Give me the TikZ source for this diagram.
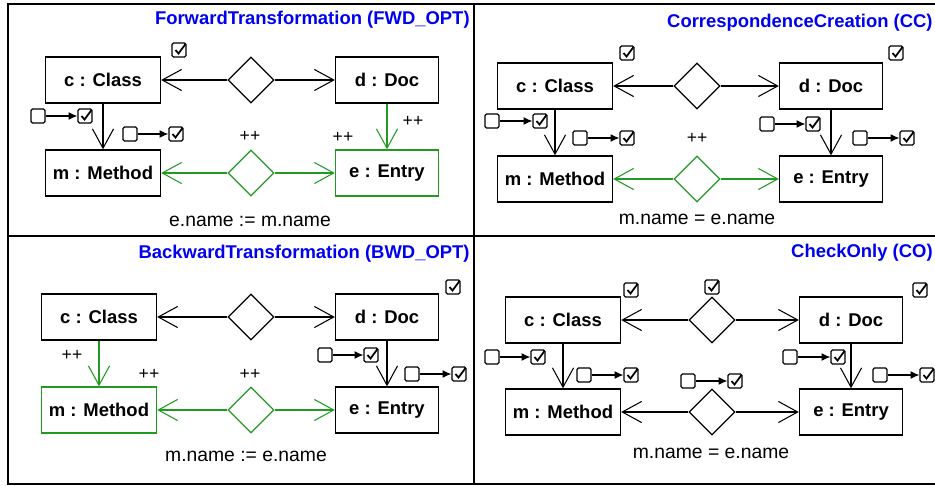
\documentclass[tikz,border=0pt]{standalone}
\usepackage{fontspec}
\setmainfont{Liberation Sans}
\usetikzlibrary{positioning,shapes.geometric,arrows.meta}
\definecolor{newgreen}{RGB}{34,153,34}
\definecolor{ruleblue}{RGB}{0,0,240}

\begin{document}
\begin{tikzpicture}[x=0.02cm,y=-0.02cm,
  obj/.style={draw,line width=0.8pt,inner sep=0,minimum height=0.92cm,font=\fontsize{10.5}{12}\selectfont\bfseries},
  lhs/.style={obj,minimum width=2.3cm},
  rhs/.style={obj,minimum width=2.06cm},
  corr/.style={draw,diamond,aspect=1,inner sep=0,minimum size=0.92cm,line width=0.7pt},
  link/.style={line width=0.6pt,-{Straight Barb[length=11pt,width=12pt]}},
  todo/.style={draw,rounded corners=0.8pt,line width=0.7pt,minimum size=0.28cm,inner sep=0},
  done/.style={todo},
  flip/.style={line width=0.6pt,-{Latex[length=5pt,width=4.5pt]}},
  checkmark/.style={line width=1pt},
  plus/.style={font=\fontsize{10}{12}\selectfont},
  cond/.style={font=\fontsize{11}{13}\selectfont},
  title/.style={anchor=east,inner sep=0,text=ruleblue,font=\fontsize{10.5}{12}\selectfont\bfseries}]
  \useasboundingbox (0,0) rectangle (935,486);
  \draw[line width=1pt] (935,4) -- (8,4) -- (8,484) -- (935,484);
  \draw[line width=1pt] (474,4) -- (474,484);
  \draw[line width=1pt] (8,236) -- (935,236);

  \node[title] (t1) at (470,20) {ForwardTransformation (FWD\_OPT)};
  \node[lhs] (c1) at (103,80) {c : Class};
  \node[rhs] (d1) at (387,80) {d : Doc};
  \node[lhs] (m1) at (103,173) {m : Method};
  \node[rhs,draw=newgreen] (e1) at (387,173) {e : Entry};
  \node[corr] (r1) at (251,80) {};
  \node[corr,draw=newgreen] (s1) at (251,173) {};
  \draw[link] (r1.west) -- (c1.east);
  \draw[link] (r1.east) -- (d1.west);
  \draw[link,newgreen] (s1.west) -- (m1.east);
  \draw[link,newgreen] (s1.east) -- (e1.west);
  \draw[link] (c1.south) -- (m1.north);
  \draw[link,newgreen] (d1.south) -- (e1.north);
  \node[done] (k1a) at (179,50) {};
  \node[todo] (n1a) at (38,116) {};
  \node[done] (y1a) at (85,116) {};
  \node[todo] (n1b) at (130,134) {};
  \node[done] (y1b) at (176,134) {};
  \draw[flip] (n1a) -- (y1a);
  \draw[flip] (n1b) -- (y1b);
  \node[plus] (p1a) at (250,136) {++};
  \node[plus] (p1b) at (343,137) {++};
  \node[plus] (p1c) at (413,121) {++};
  \node[cond] (f1) at (250,221) {e.name := m.name};

  \node[title] (t2) at (933,23) {CorrespondenceCreation (CC)};
  \node[lhs] (c2) at (555,86) {c : Class};
  \node[rhs] (d2) at (831,86) {d : Doc};
  \node[lhs] (m2) at (555,179) {m : Method};
  \node[rhs] (e2) at (831,179) {e : Entry};
  \node[corr] (r2) at (697,86) {};
  \node[corr,draw=newgreen] (s2) at (697,179) {};
  \draw[link] (r2.west) -- (c2.east);
  \draw[link] (r2.east) -- (d2.west);
  \draw[link,newgreen] (s2.west) -- (m2.east);
  \draw[link,newgreen] (s2.east) -- (e2.west);
  \draw[link] (c2.south) -- (m2.north);
  \draw[link] (d2.south) -- (e2.north);
  \node[done] (k2a) at (627,53) {};
  \node[done] (k2b) at (896,53) {};
  \node[todo] (n2a) at (492,121) {};
  \node[done] (y2a) at (540,121) {};
  \node[todo] (n2b) at (580,138) {};
  \node[done] (y2b) at (627,138) {};
  \node[todo] (n2c) at (767,124) {};
  \node[done] (y2c) at (813,124) {};
  \node[todo] (n2d) at (860,138) {};
  \node[done] (y2d) at (907,138) {};
  \draw[flip] (n2a) -- (y2a);
  \draw[flip] (n2b) -- (y2b);
  \draw[flip] (n2c) -- (y2c);
  \draw[flip] (n2d) -- (y2d);
  \node[plus] (p2a) at (697,138) {++};
  \node[cond] (f2) at (697,219) {m.name = e.name};

  \node[title] (t3) at (470,254) {BackwardTransformation (BWD\_OPT)};
  \node[lhs] (c3) at (99,317) {c : Class};
  \node[rhs] (d3) at (387,317) {d : Doc};
  \node[lhs,draw=newgreen] (m3) at (99,410) {m : Method};
  \node[rhs] (e3) at (387,410) {e : Entry};
  \node[corr] (r3) at (251,317) {};
  \node[corr,draw=newgreen] (s3) at (251,410) {};
  \draw[link] (r3.west) -- (c3.east);
  \draw[link] (r3.east) -- (d3.west);
  \draw[link,newgreen] (s3.west) -- (m3.east);
  \draw[link,newgreen] (s3.east) -- (e3.west);
  \draw[link,newgreen] (c3.south) -- (m3.north);
  \draw[link] (d3.south) -- (e3.north);
  \node[done] (k3a) at (453,287) {};
  \node[todo] (n3a) at (325,355) {};
  \node[done] (y3a) at (371,355) {};
  \node[todo] (n3b) at (412,374) {};
  \node[done] (y3b) at (459,374) {};
  \draw[flip] (n3a) -- (y3a);
  \draw[flip] (n3b) -- (y3b);
  \node[plus] (p3a) at (72,355) {++};
  \node[plus] (p3b) at (149,374) {++};
  \node[plus] (p3c) at (250,374) {++};
  \node[cond] (f3) at (246,456) {m.name := e.name};

  \node[title] (t4) at (933,253) {CheckOnly (CO)};
  \node[lhs] (c4) at (563,320) {c : Class};
  \node[rhs] (d4) at (851,320) {d : Doc};
  \node[lhs] (m4) at (563,412) {m : Method};
  \node[rhs] (e4) at (851,412) {e : Entry};
  \node[corr] (r4) at (712,320) {};
  \node[corr] (s4) at (712,412) {};
  \draw[link] (r4.west) -- (c4.east);
  \draw[link] (r4.east) -- (d4.west);
  \draw[link] (s4.west) -- (m4.east);
  \draw[link] (s4.east) -- (e4.west);
  \draw[link] (c4.south) -- (m4.north);
  \draw[link] (d4.south) -- (e4.north);
  \node[done] (k4a) at (631,290) {};
  \node[done] (k4b) at (712,287) {};
  \node[done] (k4c) at (920,290) {};
  \node[todo] (n4a) at (492,357) {};
  \node[done] (y4a) at (538,357) {};
  \node[todo] (n4b) at (584,375) {};
  \node[done] (y4b) at (631,375) {};
  \node[todo] (n4c) at (688,381) {};
  \node[done] (y4c) at (735,381) {};
  \node[todo] (n4d) at (790,357) {};
  \node[done] (y4d) at (838,357) {};
  \node[todo] (n4e) at (880,375) {};
  \node[done] (y4e) at (927,375) {};
  \draw[flip] (n4a) -- (y4a);
  \draw[flip] (n4b) -- (y4b);
  \draw[flip] (n4c) -- (y4c);
  \draw[flip] (n4d) -- (y4d);
  \draw[flip] (n4e) -- (y4e);
  \node[cond] (f4) at (711,453) {m.name = e.name};

  \foreach \n in {k1a,y1a,y1b,k2a,k2b,y2a,y2b,y2c,y2d,k3a,y3a,y3b,k4a,k4b,k4c,y4a,y4b,y4c,y4d,y4e}
    \draw[checkmark] (\n.center) ++(-3.5,0) -- ++(3,3.5) -- ++(7,-9.5);
\end{tikzpicture}
\end{document}
